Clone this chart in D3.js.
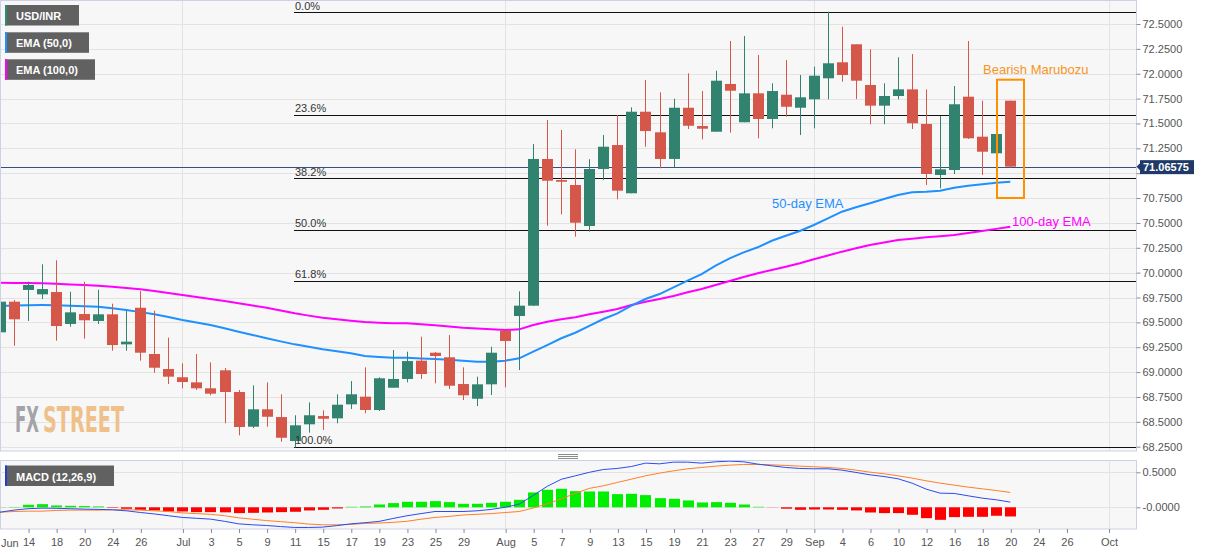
<!DOCTYPE html>
<html>
<head>
<meta charset="utf-8">
<script src="https://cdn.jsdelivr.net/npm/d3@7"></script>
<style>
  body { margin: 0; background: #fff; }
  svg { display: block; font-family: "Liberation Sans", Arial, sans-serif; }
</style>
</head>
<body>
<div id="chart"></div>
<script>
// daily USD/INR candles, 12 Jun 2019 .. 20 Sep 2019 (index 0..72)
const open = [69.400, 69.708, 69.826, 69.782, 69.805, 69.484, 69.584, 69.514, 69.581, 69.279,
  69.647, 69.182, 69.031, 68.948, 68.897, 68.837, 69.018, 68.800, 68.451, 68.626,
  68.548, 68.307, 68.475, 68.558, 68.535, 68.676, 68.753, 68.619, 68.843, 68.931,
  69.115, 69.195, 69.149, 68.880, 68.732, 68.877, 69.416, 69.564, 69.668, 71.143,
  70.931, 70.881, 70.469, 71.042, 71.283, 70.798, 71.618, 71.411, 71.143, 71.658,
  71.474, 71.417, 71.897, 71.512, 71.803, 71.545, 71.789, 71.658, 71.743, 71.954,
  72.115, 72.296, 71.887, 71.679, 71.776, 71.843, 71.495, 70.982, 71.032, 71.769,
  71.367, 71.200, 71.729];
const high = [69.745, 69.725, 69.909, 70.084, 70.124, 69.808, 69.909, 69.828, 69.688, 69.617,
  69.815, 69.617, 69.346, 69.088, 69.182, 69.098, 69.041, 68.820, 68.867, 68.897,
  68.777, 68.566, 68.696, 68.616, 68.777, 68.910, 69.048, 68.948, 69.222, 69.205,
  69.356, 69.202, 69.373, 69.048, 68.954, 69.255, 69.423, 69.812, 71.293, 71.535,
  71.434, 71.240, 71.140, 71.384, 71.585, 71.662, 71.937, 71.813, 71.749, 72.004,
  71.826, 72.030, 72.329, 72.379, 72.188, 71.904, 72.138, 71.987, 72.071, 72.624,
  72.473, 72.296, 72.246, 71.904, 72.165, 72.198, 71.843, 71.575, 71.877, 72.329,
  71.729, 71.394, 71.729];
const low = [69.255, 69.265, 69.514, 69.735, 69.316, 69.456, 69.336, 69.484, 69.215, 69.215,
  69.115, 68.994, 68.880, 68.837, 68.820, 68.767, 68.485, 68.364, 68.438, 68.451,
  68.300, 68.240, 68.391, 68.418, 68.485, 68.629, 68.586, 68.609, 68.843, 68.897,
  68.931, 68.887, 68.830, 68.719, 68.659, 68.770, 68.847, 69.021, 69.665, 70.472,
  70.587, 70.361, 70.412, 70.931, 70.737, 70.798, 71.266, 71.049, 71.059, 71.444,
  71.341, 71.417, 71.407, 71.512, 71.351, 71.451, 71.568, 71.384, 71.451, 71.743,
  71.920, 71.746, 71.492, 71.492, 71.743, 71.444, 70.881, 70.848, 70.992, 71.344,
  70.982, 71.200, 71.055];
const close = [69.708, 69.531, 69.876, 69.835, 69.463, 69.601, 69.521, 69.581, 69.272, 69.306,
  69.195, 69.044, 68.954, 68.900, 68.837, 68.783, 68.800, 68.448, 68.626, 68.551,
  68.340, 68.465, 68.566, 68.531, 68.672, 68.777, 68.619, 68.938, 68.931, 69.111,
  68.981, 69.162, 68.863, 68.767, 68.877, 69.195, 69.313, 69.668, 71.143, 70.924,
  70.914, 70.502, 71.042, 71.266, 70.824, 71.618, 71.424, 71.143, 71.658, 71.477,
  71.447, 71.930, 71.829, 71.803, 71.545, 71.826, 71.668, 71.763, 71.980, 72.105,
  71.987, 71.930, 71.679, 71.776, 71.843, 71.502, 70.992, 71.039, 71.693, 71.351,
  71.216, 71.394, 71.06575];

const ema50 = [69.665, 69.670, 69.673, 69.674, 69.672, 69.668, 69.663, 69.658, 69.642, 69.624,
  69.603, 69.581, 69.553, 69.524, 69.499, 69.474, 69.440, 69.406, 69.373, 69.340,
  69.309, 69.279, 69.254, 69.229, 69.209, 69.189, 69.162, 69.152, 69.145, 69.145,
  69.138, 69.132, 69.123, 69.115, 69.105, 69.105, 69.115, 69.139, 69.205, 69.272,
  69.340, 69.396, 69.464, 69.534, 69.591, 69.668, 69.735, 69.785, 69.852, 69.919,
  69.986, 70.070, 70.144, 70.204, 70.255, 70.321, 70.371, 70.419, 70.479, 70.546,
  70.613, 70.657, 70.697, 70.740, 70.781, 70.808, 70.814, 70.824, 70.854, 70.874,
  70.888, 70.904, 70.914];
const ema100 = [69.899, 69.897, 69.895, 69.893, 69.888, 69.882, 69.876, 69.869, 69.857, 69.845,
  69.832, 69.815, 69.795, 69.775, 69.755, 69.735, 69.715, 69.692, 69.670, 69.647,
  69.620, 69.591, 69.568, 69.547, 69.531, 69.517, 69.505, 69.497, 69.491, 69.491,
  69.480, 69.470, 69.458, 69.446, 69.438, 69.430, 69.423, 69.430, 69.474, 69.507,
  69.531, 69.551, 69.581, 69.607, 69.634, 69.675, 69.708, 69.735, 69.765, 69.802,
  69.835, 69.876, 69.916, 69.956, 69.993, 70.026, 70.060, 70.094, 70.134, 70.172,
  70.211, 70.245, 70.278, 70.303, 70.328, 70.342, 70.355, 70.366, 70.378, 70.398,
  70.419, 70.440, 70.462];

// MACD (12,26,9)
const macdLine = [-0.070, -0.040, -0.020, -0.012, -0.015, -0.020, -0.026, -0.030, -0.036, -0.050,
  -0.074, -0.095, -0.120, -0.145, -0.157, -0.169, -0.200, -0.236, -0.250, -0.260,
  -0.275, -0.288, -0.288, -0.283, -0.262, -0.236, -0.220, -0.202, -0.160, -0.121,
  -0.090, -0.060, -0.060, -0.060, -0.050, -0.030, 0.000, 0.045, 0.169, 0.300,
  0.400, 0.450, 0.500, 0.540, 0.555, 0.583, 0.631, 0.621, 0.645, 0.645,
  0.631, 0.650, 0.659, 0.650, 0.617, 0.593, 0.569, 0.555, 0.550, 0.550,
  0.531, 0.498, 0.464, 0.440, 0.407, 0.345, 0.260, 0.202, 0.198, 0.164,
  0.131, 0.107, 0.074];
const signalLine = [-0.070, -0.060, -0.055, -0.055, -0.045, -0.040, -0.040, -0.040, -0.035, -0.035,
  -0.040, -0.050, -0.060, -0.080, -0.090, -0.100, -0.120, -0.150, -0.170, -0.190,
  -0.205, -0.220, -0.240, -0.250, -0.250, -0.245, -0.230, -0.225, -0.215, -0.200,
  -0.170, -0.145, -0.130, -0.110, -0.100, -0.090, -0.075, -0.060, -0.010, 0.050,
  0.120, 0.200, 0.270, 0.307, 0.355, 0.402, 0.450, 0.488, 0.521, 0.550,
  0.569, 0.588, 0.602, 0.612, 0.612, 0.607, 0.598, 0.588, 0.579, 0.569,
  0.555, 0.531, 0.502, 0.479, 0.450, 0.417, 0.379, 0.345, 0.317, 0.288,
  0.264, 0.240, 0.212];
const histogram = [0.003, 0.005, 0.036, 0.045, 0.026, 0.021, 0.017, 0.012, -0.007, -0.021,
  -0.036, -0.045, -0.060, -0.060, -0.069, -0.069, -0.072, -0.083, -0.079, -0.074,
  -0.069, -0.064, -0.045, -0.036, -0.017, 0.007, 0.012, 0.040, 0.060, 0.079,
  0.079, 0.088, 0.074, 0.050, 0.050, 0.064, 0.079, 0.107, 0.212, 0.250,
  0.264, 0.231, 0.226, 0.226, 0.188, 0.193, 0.174, 0.131, 0.121, 0.098,
  0.069, 0.074, 0.064, 0.040, 0.007, -0.002, -0.020, -0.036, -0.031, -0.031,
  -0.036, -0.045, -0.074, -0.083, -0.083, -0.107, -0.155, -0.179, -0.140, -0.136,
  -0.136, -0.121, -0.131];

// axes
const priceTicks = [68.25, 68.5, 68.75, 69, 69.25, 69.5, 69.75, 70, 70.25, 70.5, 70.75,
  71, 71.25, 71.5, 71.75, 72, 72.25, 72.5];
const macdTicks = [0, 0.5];
const macdTickLabels = ['-0.0000', '0.5000'];
const dateTickIdx = [2, 4, 6, 8, 10, 13, 15, 17, 19, 21, 23, 25, 27, 29, 31, 33, 36, 38, 40, 42,
  44, 46, 48, 50, 52, 54, 56, 58, 60, 62, 64, 66, 68, 70, 72, 74, 76, 79];
const dateTickLabels = ['14', '18', '20', '24', '26', 'Jul', '3', '5', '9', '11', '15', '17', '19',
  '23', '25', '29', 'Aug', '5', '7', '9', '13', '15', '19', '21', '23', '27', '29', 'Sep', '4',
  '6', '10', '12', '16', '18', '20', '24', '26', 'Oct'];
const monthStartIdx = [13, 36, 58, 79];

// fibonacci retracement between the swing low and high
const fibHigh = 72.618, fibLow = 68.247;
const fibLevels = [0, 23.6, 38.2, 50, 61.8, 100];
const lastPrice = 71.06575;

const W = 1207, H = 555;
const plotR = 1136;
const mainTop = 0.5, mainBot = 451;
const macdTop = 460.5, macdBot = 529;

const x = d3.scaleLinear().domain([0, 72]).range([0, 1010.3]);
const y = d3.scaleLinear().domain([68.25, 72.5]).range([446.7, 24]);
const ym = d3.scaleLinear().domain([0, 0.5]).range([507.3, 472.3]);

const svg = d3.select('#chart').append('svg')
  .attr('width', W).attr('height', H);

const defs = svg.append('defs');
defs.append('clipPath').attr('id', 'clipMain')
  .append('rect').attr('x', 0).attr('y', mainTop).attr('width', plotR).attr('height', mainBot - mainTop);
defs.append('clipPath').attr('id', 'clipMacd')
  .append('rect').attr('x', 0).attr('y', macdTop).attr('width', plotR).attr('height', macdBot - macdTop);

// panel backgrounds
svg.append('rect').attr('x', 0.5).attr('y', mainTop).attr('width', plotR).attr('height', mainBot - mainTop)
  .attr('fill', '#f7f7f7');
svg.append('rect').attr('x', 0.5).attr('y', macdTop).attr('width', plotR).attr('height', macdBot - macdTop)
  .attr('fill', '#f7f7f7');

// grid
const main = svg.append('g').attr('clip-path', 'url(#clipMain)');
main.selectAll('.hgrid').data(priceTicks).enter().append('line')
  .attr('x1', 0).attr('x2', plotR)
  .attr('y1', d => Math.round(y(d)) + 0.5).attr('y2', d => Math.round(y(d)) + 0.5)
  .attr('stroke', '#e3e3e3');
main.selectAll('.vgrid').data(monthStartIdx).enter().append('line')
  .attr('x1', d => Math.round(x(d)) + 0.5).attr('x2', d => Math.round(x(d)) + 0.5)
  .attr('y1', mainTop).attr('y2', mainBot)
  .attr('stroke', '#e3e3e3');

// watermark, squeezed horizontally to the logo's width
const wmFont = '"Liberation Sans Narrow", "DejaVu Sans Condensed", sans-serif';
function logoPart(txt, left, width, color) {
  const t = svg.append('text').attr('x', 0).attr('y', 0).text(txt)
    .attr('font-family', wmFont).attr('font-weight', 'bold').attr('font-size', 36)
    .attr('fill', color);
  const natural = t.node().getComputedTextLength() || width;
  t.attr('transform', `translate(${left},432) scale(${width / natural},1)`);
}
logoPart('FX', 15, 24, '#a3a3a8');
logoPart('STREET', 43, 81, '#f0c08a');

// fibonacci lines
const fibPrice = p => fibHigh - (fibHigh - fibLow) * p / 100;
main.selectAll('.fib').data(fibLevels).enter().append('line')
  .attr('x1', 294).attr('x2', plotR)
  .attr('y1', d => Math.round(y(fibPrice(d))) + 0.5).attr('y2', d => Math.round(y(fibPrice(d))) + 0.5)
  .attr('stroke', '#111').attr('stroke-width', 1);
svg.selectAll('.fibLabel').data(fibLevels).enter().append('text')
  .attr('x', 295).attr('y', d => y(fibPrice(d)) - 2.5)
  .attr('font-size', 11).attr('fill', '#333')
  .text(d => d3.format('.1f')(d) + '%');

// last price line
main.append('line').attr('x1', 0).attr('x2', plotR)
  .attr('y1', Math.round(y(lastPrice)) + 0.5).attr('y2', Math.round(y(lastPrice)) + 0.5)
  .attr('stroke', '#34507f');

// EMA lines
const emaLine = d3.line().x((d, i) => x(i)).y(d => y(d));
main.append('path').datum(ema100).attr('d', emaLine)
  .attr('fill', 'none').attr('stroke', '#ff00ff').attr('stroke-width', 2);
main.append('path').datum(ema50).attr('d', emaLine)
  .attr('fill', 'none').attr('stroke', '#1e90ff').attr('stroke-width', 2);

// candles
const green = '#31836f', red = '#d5574a';
const candles = main.selectAll('.candle').data(open.map((o, i) => i)).enter().append('g');
candles.append('line')
  .attr('x1', i => Math.round(x(i)) + 0.5).attr('x2', i => Math.round(x(i)) + 0.5)
  .attr('y1', i => y(high[i])).attr('y2', i => y(low[i]))
  .attr('stroke', i => close[i] >= open[i] ? green : red);
candles.append('rect')
  .attr('x', i => Math.round(x(i)) - 5)
  .attr('width', 11)
  .attr('y', i => y(Math.max(open[i], close[i])))
  .attr('height', i => Math.max(1.5, Math.abs(y(open[i]) - y(close[i]))))
  .attr('fill', i => close[i] >= open[i] ? green : red);

// panel borders
svg.append('rect').attr('x', 0.5).attr('y', mainTop).attr('width', plotR).attr('height', mainBot - mainTop)
  .attr('fill', 'none').attr('stroke', '#ccd2e3');
svg.append('rect').attr('x', 0.5).attr('y', macdTop).attr('width', plotR).attr('height', macdBot - macdTop)
  .attr('fill', 'none').attr('stroke', '#ccd2e3');

// price axis (the 71.0000 label sits under the last-price tag)
const yAxis = svg.append('g').attr('transform', `translate(${plotR + 0.5},0)`)
  .call(d3.axisRight(y).tickValues(priceTicks)
    .tickFormat(d => d === 71 ? '' : d3.format('.4f')(d)).tickSize(4).tickPadding(2));
yAxis.select('.domain').remove();
yAxis.selectAll('line').attr('stroke', '#8a8a8a');
yAxis.selectAll('text').attr('font-size', 11).attr('fill', '#555')
  .attr('font-family', '"Liberation Sans", Arial, sans-serif');

// last price tag
const ly = y(lastPrice);
svg.append('path')
  .attr('d', `M1136.5,${ly} L1140.5,${ly - 4} L1140.5,${ly + 4} Z`).attr('fill', '#1f3a68');
svg.append('rect').attr('x', 1140).attr('y', ly - 6.5).attr('width', 54).attr('height', 14)
  .attr('fill', '#1f3a68');
svg.append('text').attr('x', 1143).attr('y', ly + 4.5).text(lastPrice.toFixed(5))
  .attr('font-size', 11).attr('font-weight', 'bold').attr('fill', '#fff');

// annotations
svg.append('rect').attr('x', 997).attr('y', 79.7).attr('width', 27).attr('height', 118.3)
  .attr('fill', 'none').attr('stroke', '#ff9000').attr('stroke-width', 2);
svg.append('text').attr('x', 983).attr('y', 74).text('Bearish Marubozu')
  .attr('font-size', 13).attr('fill', '#f7941d');
svg.append('text').attr('x', 772).attr('y', 207.5).text('50-day EMA')
  .attr('font-size', 13).attr('fill', '#1e90ff');
svg.append('text').attr('x', 1012).attr('y', 226).text('100-day EMA')
  .attr('font-size', 13).attr('fill', '#ff00ff');

// legend tags
function tag(ty, w, color, label) {
  svg.append('rect').attr('x', 5).attr('y', ty).attr('width', w).attr('height', 20.5)
    .attr('fill', '#595959').attr('opacity', 0.95);
  svg.append('rect').attr('x', 5).attr('y', ty).attr('width', 2).attr('height', 20.5)
    .attr('fill', color);
  svg.append('text').attr('x', 16).attr('y', ty + 15).text(label)
    .attr('font-size', 11).attr('font-weight', 'bold').attr('fill', '#fff');
}
tag(5, 74, '#2e8b6e', 'USD/INR');
tag(32.3, 84, '#1e90ff', 'EMA (50,0)');
tag(59.3, 90, '#ff00ff', 'EMA (100,0)');

// panel separator handle
[454, 456, 458].forEach(hy => {
  svg.append('line').attr('x1', 558).attr('x2', 578).attr('y1', hy + 0.5).attr('y2', hy + 0.5)
    .attr('stroke', '#8c8c8c');
});

// MACD panel
const mg = svg.append('g').attr('clip-path', 'url(#clipMacd)');
mg.selectAll('.mh').data(macdTicks).enter().append('line')
  .attr('x1', 0).attr('x2', plotR)
  .attr('y1', d => Math.round(ym(d)) + 0.5).attr('y2', d => Math.round(ym(d)) + 0.5)
  .attr('stroke', '#e3e3e3');
mg.selectAll('.mv').data(monthStartIdx).enter().append('line')
  .attr('x1', d => Math.round(x(d)) + 0.5).attr('x2', d => Math.round(x(d)) + 0.5)
  .attr('y1', macdTop).attr('y2', macdBot)
  .attr('stroke', '#e3e3e3');
mg.selectAll('.hist').data(histogram).enter().append('rect')
  .attr('x', (d, i) => Math.round(x(i)) - 5)
  .attr('width', 11)
  .attr('y', d => ym(Math.max(0, d)))
  .attr('height', d => Math.abs(ym(d) - ym(0)))
  .attr('fill', d => d >= 0 ? '#00ee00' : '#ff0000');
const mLine = d3.line().x((d, i) => x(i)).y(d => ym(d));
mg.append('path').datum(signalLine).attr('d', mLine)
  .attr('fill', 'none').attr('stroke', '#ff7f27').attr('stroke-width', 1);
mg.append('path').datum(macdLine).attr('d', mLine)
  .attr('fill', 'none').attr('stroke', '#2a4bf0').attr('stroke-width', 1);

const mAxis = svg.append('g').attr('transform', `translate(${plotR + 0.5},0)`)
  .call(d3.axisRight(ym).tickValues(macdTicks).tickFormat((d, i) => macdTickLabels[i]).tickSize(4).tickPadding(2));
mAxis.select('.domain').remove();
mAxis.selectAll('line').attr('stroke', '#8a8a8a');
mAxis.selectAll('text').attr('font-size', 11).attr('fill', '#555')
  .attr('font-family', '"Liberation Sans", Arial, sans-serif');

// MACD tag
svg.append('rect').attr('x', 5).attr('y', 465.5).attr('width', 109).attr('height', 20.5)
  .attr('fill', '#595959').attr('opacity', 0.95);
svg.append('rect').attr('x', 5).attr('y', 465.5).attr('width', 2).attr('height', 20.5)
  .attr('fill', '#1f3fc8');
svg.append('text').attr('x', 16).attr('y', 480.5).text('MACD (12,26,9)')
  .attr('font-size', 11).attr('font-weight', 'bold').attr('fill', '#fff');

// date axis
const xAxis = svg.append('g').attr('transform', `translate(0.5,${macdBot})`)
  .call(d3.axisBottom(x).tickValues(dateTickIdx).tickFormat((d, i) => dateTickLabels[i])
    .tickSize(4).tickPadding(5.5));
xAxis.select('.domain').remove();
xAxis.selectAll('line').attr('stroke', '#8a8a8a');
xAxis.selectAll('text').attr('font-size', 11).attr('fill', '#555')
  .attr('font-family', '"Liberation Sans", Arial, sans-serif');
svg.append('text').attr('x', 1).attr('y', 546.5).text('Jun')
  .attr('font-size', 11).attr('fill', '#555');
</script>
</body>
</html>
